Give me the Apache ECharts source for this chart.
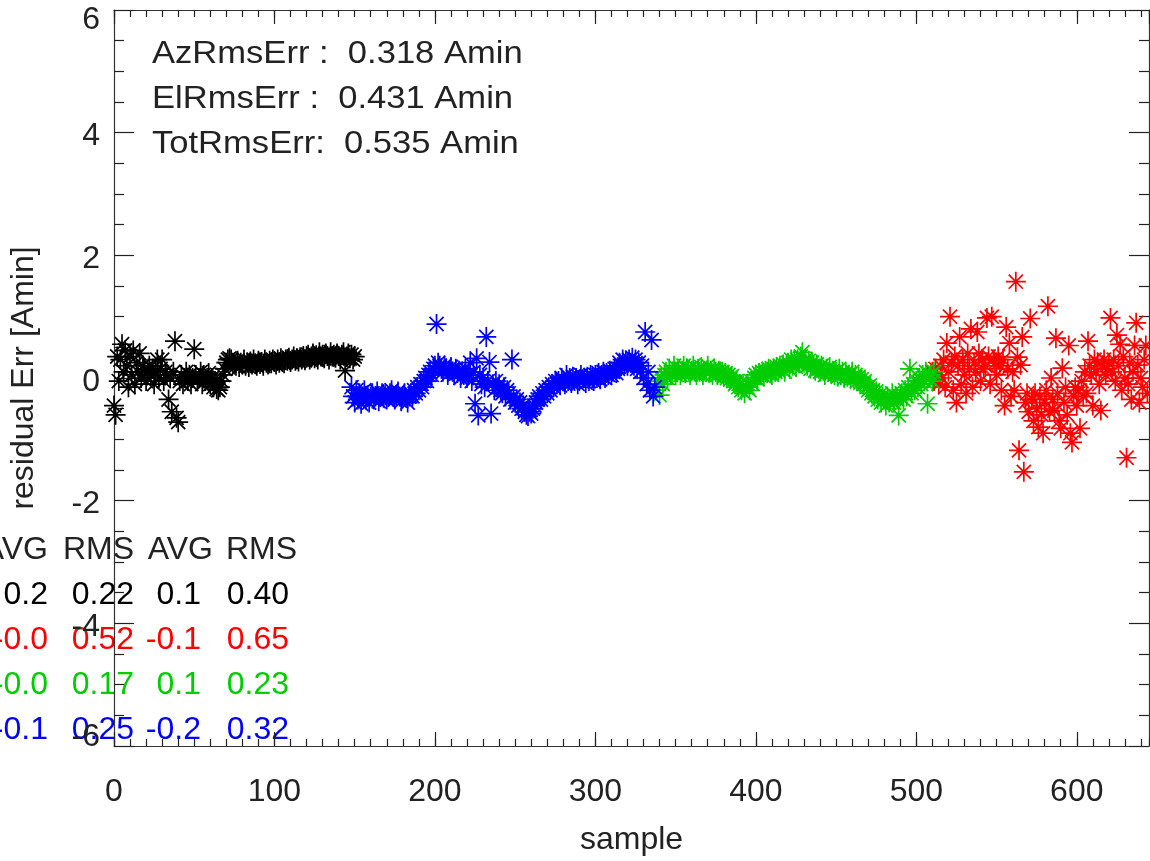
<!DOCTYPE html>
<html>
<head>
<meta charset="utf-8">
<script src="https://cdn.jsdelivr.net/npm/echarts@6/dist/echarts.min.js"></script>
<style>
html,body{margin:0;padding:0;background:#fff;}
#chart{width:1150px;height:861px;}
</style>
</head>
<body>
<div id="chart"></div>
<script>
// ---------------- data ----------------
const blackStart = 0;
const blackY = [
-0.45,-0.6,0.35,-0.05,0.3,0.55,0.1,0.45,0.2,-0.15,0.35,0.05,0.45,-0.1,0.25,0.1,0.4,0.0,0.2,0.15,-0.05,
0.1,0.2,0.05,0.15,-0.1,0.1,0.3,0.0,0.15,0.3,-0.05,0.1,0.05,-0.35,0.0,-0.55,
0.1,0.6,-0.65,-0.72,-0.05,0.05,-0.1,0.0,0.1,-0.05,0.05,-0.1,0.0,0.47,
0.05,-0.05,0.0,0.1,-0.1,0.05,-0.05,0.0,0.08,-0.1,0.0,-0.15,-0.05,-0.18,-0.2,-0.15,-0.05,0.05,
0.15,0.25,0.3,0.32,0.3,0.25,0.22,
0.2,0.28,0.18,0.25,0.22,0.3,0.2,0.25,0.18,0.27,0.22,0.3,0.24,0.2,0.28,0.23,0.26,0.2,0.3,0.25,0.22,0.28,0.24,0.3,
0.26,0.22,0.3,0.25,0.32,0.27,0.24,0.3,0.28,0.33,0.26,0.3,0.35,0.28,0.32,0.27,0.34,0.3,0.36,0.29,
0.33,0.38,0.3,0.35,0.4,0.32,0.37,0.3,0.42,0.35,0.38,0.32,0.4,0.36,0.3,0.42,0.35,0.38,0.33,0.4,0.36,0.3,0.38,0.42,0.12,0.35,0.4,0.32,0.38,0.3,0.35
];
const blueStart = 148;
const blueY = [
-0.15,-0.3,-0.4,-0.2,-0.35,-0.25,-0.42,-0.3,-0.2,-0.35,-0.28,-0.4,-0.3,-0.25,-0.35,-0.3,-0.22,-0.38,-0.3,-0.25,-0.32,-0.28,
-0.35,-0.3,-0.25,-0.2,-0.3,-0.35,-0.28,-0.22,-0.3,-0.38,-0.3,-0.25,-0.32,-0.4,-0.3,-0.25,-0.3,-0.2,-0.25,-0.15,
-0.2,-0.1,-0.15,-0.05,0.0,-0.05,0.05,0.1,0.05,0.15,0.2,0.88,0.25,0.2,0.15,
0.1,0.2,0.15,0.05,0.12,0.18,0.1,0.05,0.15,0.08,0.12,0.0,0.1,0.05,0.15,0.0,0.05,
0.25,-0.05,0.1,-0.42,0.32,-0.61,0.05,-0.1,0.0,-0.15,0.67,-0.05,0.26,-0.58,-0.1,-0.2,-0.05,-0.15,-0.1,-0.2,-0.25,-0.15,-0.3,-0.2,-0.25,-0.35,0.3,-0.3,-0.4,
-0.35,-0.45,-0.4,-0.5,-0.45,-0.55,-0.6,-0.62,-0.55,-0.58,-0.5,-0.45,-0.4,-0.35,
-0.3,-0.35,-0.25,-0.3,-0.2,-0.25,-0.15,-0.2,-0.1,-0.15,-0.05,-0.1,-0.05,-0.12,0.0,-0.05,-0.1,0.05,-0.05,0.0,-0.08,0.02,-0.05,
0.0,-0.1,-0.05,0.05,-0.02,0.0,-0.08,0.02,-0.05,0.05,0.0,-0.05,0.05,0.0,0.08,-0.02,0.05,0.1,0.0,0.08,0.05,0.12,0.05,0.1,0.15,0.08,0.15,
0.25,0.2,0.3,0.22,0.28,0.2,0.3,0.25,0.33,0.2,0.3,0.15,0.25,0.1,0.2,0.0,0.75,-0.1,0.1,-0.2,0.62,-0.3,-0.15
];
const greenStart = 338;
const greenY = [
-0.2,-0.05,-0.28,0.0,-0.1,0.05,0.1,0.0,0.15,0.05,0.1,0.2,0.05,0.1,0.15,0.05,0.12,0.2,0.08,0.15,0.1,0.05,0.12,0.2,0.1,0.05,
0.15,0.1,0.18,0.05,0.12,0.1,0.2,0.08,0.12,0.05,0.15,0.1,0.05,0.12,0.08,0.1,0.02,0.08,0.0,0.05,-0.02,0.03,-0.05,-0.1,
-0.05,-0.15,-0.1,-0.2,-0.12,-0.25,-0.15,-0.1,-0.2,-0.05,-0.1,0.0,0.05,-0.02,0.08,0.05,0.1,0.03,0.12,0.08,0.15,0.1,
0.05,0.15,0.1,0.18,0.12,0.2,0.15,0.22,0.1,0.2,0.25,0.15,0.3,0.2,0.28,0.18,0.3,0.25,0.35,0.42,0.25,0.3,0.2,0.28,0.15,
0.25,0.2,0.12,0.22,0.15,0.1,0.2,0.12,0.05,0.15,0.1,0.18,0.08,0.12,0.05,0.1,0.02,0.15,0.05,0.1,0.0,0.08,0.02,0.05,-0.02,
0.1,0.0,0.05,-0.05,0.02,-0.08,-0.02,-0.1,-0.05,-0.15,-0.2,-0.12,-0.25,-0.2,-0.3,-0.22,-0.35,-0.28,-0.4,-0.3,-0.35,-0.45,
-0.3,-0.4,-0.35,-0.25,-0.4,-0.3,-0.35,-0.61,-0.3,-0.25,-0.35,-0.2,-0.3,-0.15,0.15,-0.25,-0.1,-0.2,-0.05,-0.15,0.0,-0.1,
0.05,-0.05,0.1,-0.42,0.0,0.05,-0.05,0.1
];
const redStart = 510;
const redY = [
0.1,-0.05,0.15,0.05,-0.1,0.2,0.0,0.3,-0.15,0.57,0.1,1.0,0.25,-0.2,0.35,-0.4,0.2,0.67,-0.1,0.3,0.05,-0.25,0.4,0.15,0.8,
-0.15,0.25,0.1,0.75,0.4,-0.05,0.3,0.15,0.2,0.98,0.35,-0.1,1.0,0.3,0.25,0.05,0.35,0.2,-0.2,0.3,-0.45,0.83,0.15,0.57,-0.3,
0.1,-0.2,1.57,0.34,-1.18,0.21,0.67,-1.53,-0.4,-0.25,-0.55,0.97,-0.35,-0.7,-0.25,-0.5,-0.8,-0.3,-0.6,-0.9,-0.4,-0.2,1.17,
-0.55,0.0,-0.35,-0.53,0.65,-0.25,-0.7,-0.82,0.16,-0.4,-0.15,-0.6,0.53,-0.9,-1.05,-0.3,-0.15,-0.45,-0.2,-0.82,-0.05,-0.3,
0.1,-0.25,0.6,0.2,0.05,-0.45,0.3,0.1,0.25,-0.1,-0.53,0.2,0.3,0.05,0.15,0.25,0.98,0.1,0.3,-0.05,0.7,0.2,0.55,-0.2,0.35,
0.0,-1.3,-0.1,0.25,-0.35,0.1,0.53,0.9,0.21,-0.4,0.0,-0.15,0.3,0.53,-0.25
];
const xTickValues = [0, 100, 200, 300, 400, 500, 600];
const yTickValues = [-6, -4, -2, 0, 2, 4, 6];
const statsLines = ['AzRmsErr :  0.318 Amin', 'ElRmsErr :  0.431 Amin', 'TotRmsErr:  0.535 Amin'];
const tableHeader = ['AVG', 'RMS', 'AVG', 'RMS'];
const tableRows = [
  ['0.2', '0.22', '0.1', '0.40'],
  ['-0.0', '0.52', '-0.1', '0.65'],
  ['-0.0', '0.17', '0.1', '0.23'],
  ['-0.1', '0.25', '-0.2', '0.32']
];
const seriesColors = ['#000000', '#ff0000', '#00cc00', '#0000ff'];

// ---------------- chart ----------------
const FONT = '"Liberation Sans", Arial, Helvetica, sans-serif';
const TXT = '#222222';
function toPairs(start, ys) { return ys.map((y, i) => [start + i, y]); }

const STAR = 'path://M8,0L8,16M0,8L16,8M2.35,2.35L13.65,13.65M2.35,13.65L13.65,2.35';
function starSeries(name, start, ys, color) {
  return {
    name, type: 'scatter', xAxisIndex: 0, yAxisIndex: 0,
    data: toPairs(start, ys),
    symbol: STAR, symbolSize: 20, symbolKeepAspect: true,
    itemStyle: { color: color, borderColor: color, borderWidth: 1.7, opacity: 1 },
    emphasis: { disabled: true }, silent: true, animation: false
  };
}

const XMIN = 0, XMAX = 645;
const tickLine = { color: '#222', width: 1.2 };
function xAx(pos, interval, len, labels, showLine, extra) {
  return Object.assign({
    type: 'value', position: pos, min: XMIN, max: XMAX, interval: interval,
    axisLine: { show: showLine, onZero: false, lineStyle: { color: '#333', width: 1.2 } },
    axisTick: { show: true, inside: true, length: len, lineStyle: tickLine },
    axisLabel: { show: labels, showMaxLabel: false, fontSize: 32, color: TXT, margin: 30, fontFamily: FONT },
    splitLine: { show: false }
  }, extra || {});
}
function yAx(pos, labels, extra) {
  return Object.assign({
    type: 'value', position: pos, min: -6, max: 6, interval: 2,
    axisLine: { show: true, onZero: false, lineStyle: { color: '#333', width: 1.2 } },
    axisTick: { show: true, inside: true, length: 20, lineStyle: tickLine },
    minorTick: { show: true, splitNumber: 4, length: 10, lineStyle: tickLine },
    axisLabel: labels ? {
      show: true, margin: 14, fontFamily: FONT,
      formatter: v => v === 6 ? '{t|6}' : (v === -6 ? '{b|-6}' : '{n|' + v + '}'),
      rich: {
        n: { fontSize: 32, color: TXT, fontFamily: FONT, padding: [8, 0, 0, 0] },
        t: { fontSize: 32, color: TXT, fontFamily: FONT, padding: [20, 0, 0, 0] },
        b: { fontSize: 32, color: TXT, fontFamily: FONT, padding: [0, 0, 18, 0] }
      }
    } : { show: false },
    splitLine: { show: false }
  }, extra || {});
}

const graphics = [];
statsLines.forEach((t, i) => {
  graphics.push({ type: 'text', x: 152, y: 54 + i * 45, scaleX: 1.08, silent: true,
    style: { text: t, font: '32px ' + FONT, fill: TXT, verticalAlign: 'middle' } });
});
const headerRight = [48, 134, 213, 297];
const colRight = [48, 134, 201, 289];
tableHeader.forEach((t, j) => {
  graphics.push({ type: 'text', x: headerRight[j], y: 550, silent: true,
    style: { text: t, font: '32px ' + FONT, fill: TXT, align: 'right', verticalAlign: 'middle' } });
});
tableRows.forEach((row, i) => {
  row.forEach((t, j) => {
    graphics.push({ type: 'text', x: colRight[j], y: 595 + i * 45, silent: true,
      style: { text: t, font: '32px ' + FONT, fill: seriesColors[i], align: 'right', verticalAlign: 'middle' } });
  });
});

const chart = echarts.init(document.getElementById('chart'), null, { renderer: 'canvas' });
chart.setOption({
  animation: false,
  backgroundColor: '#ffffff',
  textStyle: { fontFamily: FONT },
  grid: { left: 112, right: 1, top: 10, bottom: 115, containLabel: false },
  xAxis: [
    xAx('bottom', 100, 14, true, true, { name: 'sample', nameLocation: 'middle', nameGap: 78,
      nameTextStyle: { fontSize: 32, color: TXT, fontFamily: FONT } }),
    xAx('bottom', 10, 7, false, false),
    xAx('top', 100, 14, false, true),
    xAx('top', 10, 7, false, false)
  ],
  yAxis: [
    yAx('left', true, { name: 'residual Err [Amin]', nameLocation: 'middle', nameGap: 74,
      nameTextStyle: { fontSize: 32, color: TXT, fontFamily: FONT } }),
    yAx('right', false)
  ],
  series: [
    starSeries('black', blackStart, blackY, seriesColors[0]),
    starSeries('red', redStart, redY, seriesColors[1]),
    starSeries('green', greenStart, greenY, seriesColors[2]),
    starSeries('blue', blueStart, blueY, seriesColors[3])
  ],
  graphic: graphics
});
</script>
</body>
</html>
